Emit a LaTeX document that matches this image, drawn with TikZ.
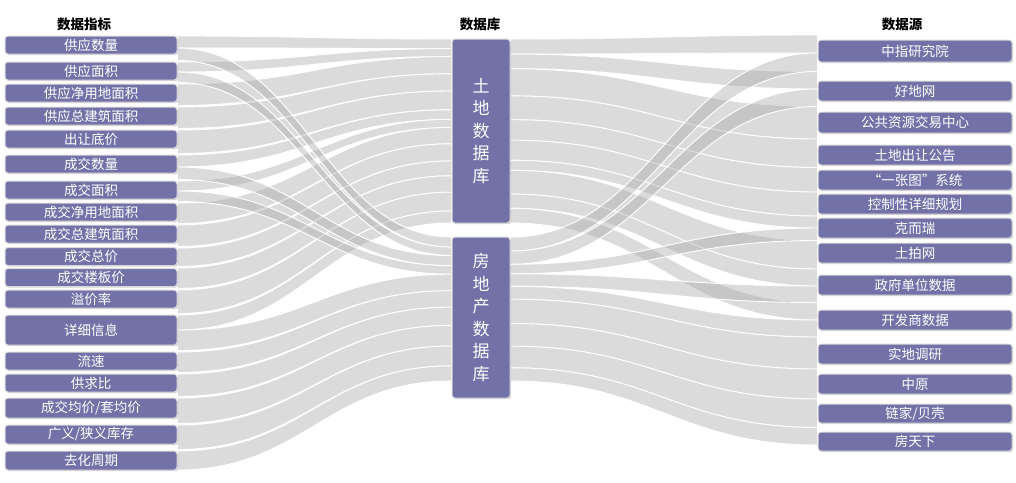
\documentclass[tikz,border=0pt]{standalone}
\usepackage{fontspec}
\setmainfont{Noto Sans CJK SC}
\usepackage{tikz}
\usetikzlibrary{shadows, backgrounds}

\definecolor{boxpurple}{RGB}{114,114,168}

\begin{document}
\begin{tikzpicture}[x=1pt,y=1pt,yscale=-1,
  flow/.style={fill=black!35,fill opacity=0.4,draw=white,draw opacity=1,line width=0.9},
  sbox/.style={fill=boxpurple,draw=black!15,line width=1,rounded corners=3,text=white,inner sep=0,
    font=\fontsize{13.5}{16}\selectfont,drop shadow={opacity=0.35,shadow xshift=1.2pt,shadow yshift=-1.2pt}},
  lbox/.style={sbox,minimum width=172,minimum height=18},
  rbox/.style={sbox,minimum width=194,minimum height=20},
  dbox/.style={sbox,minimum width=58,align=center,font=\fontsize{17}{22.5}\selectfont},
  head/.style={font=\bfseries\fontsize{13.5}{16}\selectfont}]
\useasboundingbox (0,0) rectangle (1016,482);

% Column titles
\node [head] (hm) at (84,24) {数据指标};
\node [head] (hd) at (480,24) {数据库};
\node [head] (hs) at (902,24) {数据源};

% Databases
\node [dbox,minimum height=184] (land) at (481,131) {土\\地\\数\\据\\库};
\node [dbox,minimum height=161] (estate) at (481,317.5) {房\\地\\产\\数\\据\\库};

% Indicators
\node [lbox] (m1) at (91,45) {供应数量};
\node [lbox] (m2) at (91,71) {供应面积};
\node [lbox] (m3) at (91,93) {供应净用地面积};
\node [lbox] (m4) at (91,116) {供应总建筑面积};
\node [lbox] (m5) at (91,139) {出让底价};
\node [lbox] (m6) at (91,164) {成交数量};
\node [lbox] (m7) at (91,190) {成交面积};
\node [lbox] (m8) at (91,212) {成交净用地面积};
\node [lbox] (m9) at (91,234) {成交总建筑面积};
\node [lbox] (m10) at (91,256.5) {成交总价};
\node [lbox] (m11) at (91,277.5) {成交楼板价};
\node [lbox] (m12) at (91,299) {溢价率};
\node [lbox,minimum height=30] (m13) at (91,330) {详细信息};
\node [lbox] (m14) at (91,361) {流速};
\node [lbox] (m15) at (91,383) {供求比};
\node [lbox,minimum height=20] (m16) at (91,408) {成交均价/套均价};
\node [lbox,minimum height=19] (m17) at (91,434.5) {广义/狭义库存};
\node [lbox,minimum height=19] (m18) at (91,460.5) {去化周期};

% Sources
\node [rbox,minimum height=22] (s1) at (915,51) {中指研究院};
\node [rbox] (s2) at (915,91) {好地网};
\node [rbox,minimum height=21] (s3) at (915,122.5) {公共资源交易中心};
\node [rbox] (s4) at (915,155) {土地出让公告};
\node [rbox] (s5) at (915,180) {“一张图”系统};
\node [rbox] (s6) at (915,204) {控制性详细规划};
\node [rbox] (s7) at (915,228) {克而瑞};
\node [rbox] (s8) at (915,253) {土拍网};
\node [rbox] (s9) at (915,285) {政府单位数据};
\node [rbox] (s10) at (915,320) {开发商数据};
\node [rbox] (s11) at (915,354) {实地调研};
\node [rbox] (s12) at (915,384) {中原};
\node [rbox,minimum height=19] (s13) at (915,413.5) {链家/贝壳};
\node [rbox,minimum height=19] (s14) at (915,441.5) {房天下};

\begin{scope}[on background layer]
% Flows: indicators -> databases
\foreach \src/\ya/\yb/\dst/\yc/\yd in {m1/36/48/land/39/48.6, m2/62/72/land/48.6/56.6,
    m3/84/105.5/land/56.6/73.8, m4/107/128.5/land/73.8/91, m5/130/153.5/land/91/109.8,
    m6/155/167/land/109.8/119.4, m7/181/191/land/119.4/127.4, m8/203/223.5/land/127.4/143.8,
    m9/225/246.5/land/143.8/161, m10/248/266.5/land/161/175.8, m11/268/288.5/land/175.8/192.2,
    m12/290/313.5/land/192.2/211, m13/315/330/land/211/223,
    m1/48/60.5/estate/237/247.1, m2/72/82.5/estate/247.1/255.6, m6/167/179.5/estate/255.6/265.7,
    m7/191/201.5/estate/265.7/274.2, m13/330/350.5/estate/274.2/290.7, m14/352/372.5/estate/290.7/307.2,
    m15/374/396.5/estate/307.2/325.4, m16/398/423.5/estate/325.4/346, m17/425/449.5/estate/346/365.8,
    m18/451/470/estate/365.8/381}
  \filldraw [flow] (\src.east |- 0,\ya) .. controls +(125,0) and +(-125,0) .. (\dst.west |- 0,\yc)
    -- (\dst.west |- 0,\yd) .. controls +(-125,0) and +(125,0) .. (\src.east |- 0,\yb) -- cycle;

% Flows: sources -> databases
\foreach \src/\ya/\yb/\dst/\yc/\yd in {s1/35/53/land/39/54.05, s2/71.5/89/land/54.05/68.7,
    s3/106.5/139/land/68.7/95.9, s4/139/167.5/land/95.9/119.7, s5/167.5/192/land/119.7/140.2,
    s6/192/216/land/140.2/160.3, s7/216/228/land/160.3/170.3, s8/240.5/269/land/170.3/194.1,
    s9/269/286/land/194.1/208.3, s10/302.5/320/land/208.3/223,
    s1/53/71.5/estate/237/251, s2/89/106.5/estate/251/264.3, s7/228/240.5/estate/264.3/273.8,
    s9/286/302.5/estate/273.8/286.3, s10/320/337/estate/286.3/299.2, s11/337/369/estate/299.2/323.5,
    s12/369/399/estate/323.5/346.2, s13/399/427.5/estate/346.2/367.8, s14/427.5/445/estate/367.8/381}
  \filldraw [flow] (\src.west |- 0,\ya) .. controls +(-140,0) and +(140,0) .. (\dst.east |- 0,\yc)
    -- (\dst.east |- 0,\yd) .. controls +(140,0) and +(-140,0) .. (\src.west |- 0,\yb) -- cycle;
\end{scope}

\end{tikzpicture}
\end{document}
